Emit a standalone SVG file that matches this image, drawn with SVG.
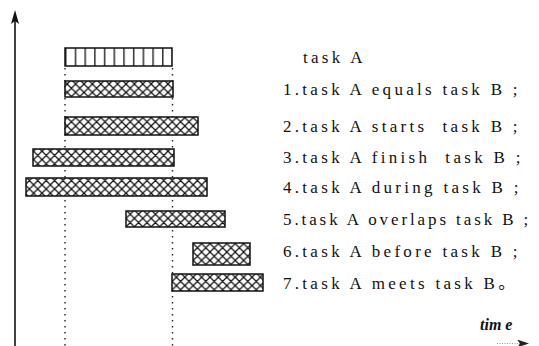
<svg xmlns="http://www.w3.org/2000/svg" width="539" height="346" viewBox="0 0 539 346">
<defs>
<pattern id="stripes" patternUnits="userSpaceOnUse" x="65" y="0" width="9.7" height="10">
<rect width="9.7" height="10" fill="#fff"/>
<line x1="0.8" y1="0" x2="0.8" y2="10" stroke="#111" stroke-width="1.3"/>
</pattern>
<pattern id="hatch" patternUnits="userSpaceOnUse" width="8.4" height="8.4">
<rect width="8.4" height="8.4" fill="#fff"/>
<path d="M0,0 L8.4,8.4 M0,8.4 L8.4,0 M-1,1 L1,-1 M7.4,9.4 L9.4,7.4" stroke="#111" stroke-width="1.25"/>
</pattern>
<marker id="arrR" markerWidth="12" markerHeight="8" refX="10" refY="4" orient="auto" markerUnits="userSpaceOnUse">
<path d="M12,4 L0,0 L3,4 L0,8 Z" fill="#222"/>
</marker>
</defs>
<style>
.bar{fill:url(#hatch);stroke:#111;stroke-width:1.5}
.lbl{font-family:"Liberation Serif","Noto Sans CJK SC",serif;font-size:17px;letter-spacing:3.3px;fill:#111}
.dot{stroke:#222;stroke-width:1.4;stroke-dasharray:1.4 4.6;fill:none}
</style>
<g id="axes">
<line x1="15" y1="18" x2="15" y2="346" stroke="#111" stroke-width="1.6"/>
<path d="M15,10 L19,24 L15,21 L11,24 Z" fill="#111"/>
<line x1="497" y1="343.5" x2="527" y2="343.5" stroke="#999" stroke-width="1" stroke-dasharray="1 1.5" marker-end="url(#arrR)"/>
<text x="480" y="330" font-family="Liberation Serif,serif" font-size="16" font-style="italic" font-weight="bold" fill="#111" xml:space="preserve">tim e</text>
</g>
<g id="guides">
<line class="dot" x1="65" y1="68" x2="65" y2="346"/>
<line class="dot" x1="172.5" y1="68" x2="172.5" y2="346"/>
</g>
<g id="taskA">
<rect x="65" y="48" width="107" height="18" fill="url(#stripes)" stroke="#111" stroke-width="1.5"/>
<text class="lbl" x="303" y="63">task A</text>
</g>
<g id="r1">
<rect class="bar" x="65" y="81" width="108" height="16"/>
<text class="lbl" x="283" y="95">1.task A equals task B ;</text>
</g>
<g id="r2">
<rect class="bar" x="65" y="117" width="133" height="18"/>
<text class="lbl" x="283" y="132" xml:space="preserve">2.task A starts  task B ;</text>
</g>
<g id="r3">
<rect class="bar" x="33" y="149" width="141" height="17"/>
<text class="lbl" x="283" y="163" xml:space="preserve">3.task A finish  task B ;</text>
</g>
<g id="r4">
<rect class="bar" x="26" y="178" width="181" height="18"/>
<text class="lbl" x="283" y="193">4.task A during task B ;</text>
</g>
<g id="r5">
<rect class="bar" x="126" y="211" width="99" height="16"/>
<text class="lbl" x="283" y="225" style="letter-spacing:2.9px">5.task A overlaps task B ;</text>
</g>
<g id="r6">
<rect class="bar" x="193" y="243" width="57" height="22"/>
<text class="lbl" x="283" y="257">6.task A before task B ;</text>
</g>
<g id="r7">
<rect class="bar" x="172" y="274" width="91" height="17"/>
<text class="lbl" x="283" y="289">7.task A meets task B。</text>
</g>
</svg>
